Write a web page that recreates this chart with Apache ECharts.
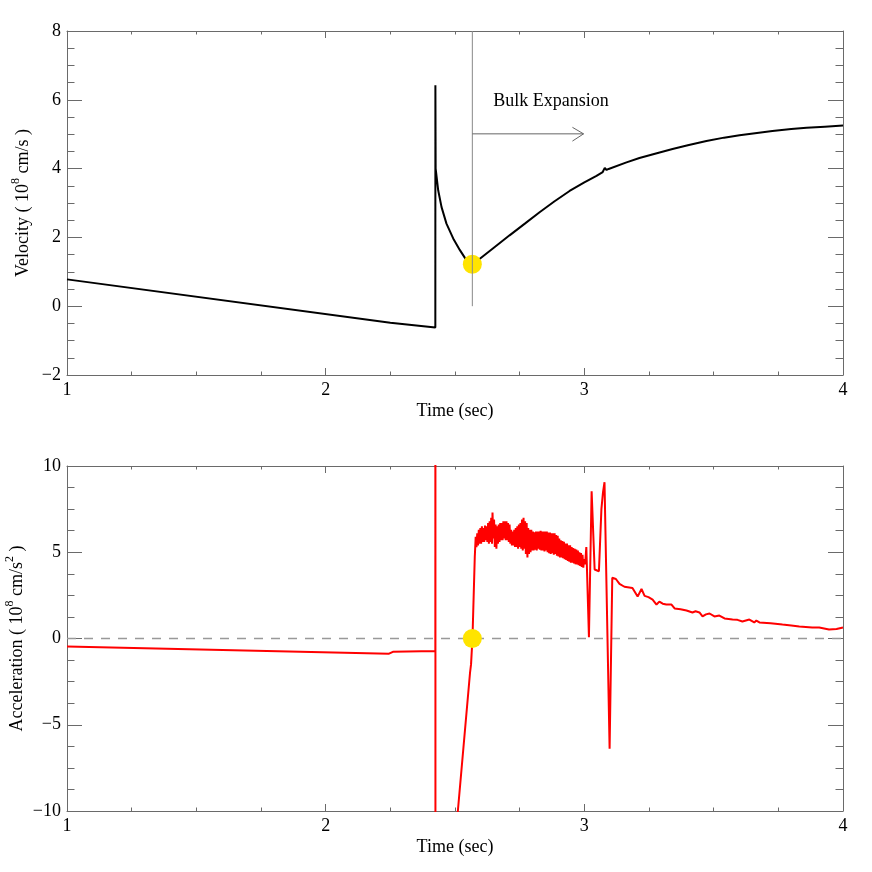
<!DOCTYPE html>
<html><head><meta charset="utf-8">
<script src="https://cdn.jsdelivr.net/npm/echarts@6/dist/echarts.min.js"></script>
<style>html,body{margin:0;padding:0;background:#fff}#c{width:872px;height:872px}</style>
</head><body><div id="c"></div>
<script>
// ---- data (time in sec, velocity 1e8 cm/s, acceleration 1e8 cm/s^2) ----
const timeRange = [1, 4];
const velRange = [-2, 8];
const accRange = [-10, 10];

const velocity = [
  [1.00, 0.78], [2.25, -0.48], [2.424, -0.62], [2.4242, 6.42], [2.4252, 4.0],
  [2.4262, 3.95], [2.435, 3.37], [2.448, 2.88], [2.467, 2.40], [2.493, 1.97],
  [2.519, 1.63], [2.544, 1.34], [2.567, 1.22], [2.596, 1.38], [2.65, 1.70],
  [2.711, 2.06], [2.77, 2.40], [2.827, 2.73], [2.885, 3.05], [2.943, 3.35],
  [3.0, 3.60], [3.047, 3.79], [3.071, 3.90], [3.079, 4.02], [3.086, 3.96],
  [3.094, 3.99], [3.163, 4.18], [3.213, 4.31], [3.291, 4.47], [3.341, 4.57],
  [3.40, 4.68], [3.472, 4.80], [3.54, 4.90], [3.60, 4.97], [3.66, 5.03],
  [3.727, 5.09], [3.80, 5.15], [3.859, 5.19], [3.93, 5.22], [4.0, 5.25]
];

const accelPre = [
  [1.00, -0.46], [2.245, -0.88], [2.26, -0.77], [2.424, -0.72],
  [2.4242, 40], [2.4245, -40], [2.4875, -14], [2.511, -10], [2.558, -2.0],
  [2.562, -1.5], [2.5675, 0], [2.5765, 4.75]
];

const accelNoise = [
  [2.577,4.9],[2.580,5.9],[2.583,5.3],[2.586,6.1],[2.589,5.4],[2.592,6.3],[2.595,5.5],[2.598,6.4],
  [2.601,5.5],[2.604,6.5],[2.607,5.6],[2.610,6.4],[2.613,5.6],[2.616,6.55],[2.619,5.7],[2.622,6.5],
  [2.625,5.6],[2.628,6.7],[2.631,5.5],[2.634,6.8],[2.637,5.6],[2.640,7.0],[2.643,5.5],[2.645,7.3],
  [2.648,5.8],[2.651,6.9],[2.654,5.3],[2.657,6.6],[2.660,5.2],[2.663,6.5],[2.666,5.5],[2.669,6.6],
  [2.672,5.6],[2.675,6.7],[2.678,5.7],[2.681,6.7],[2.684,5.7],[2.687,6.8],[2.690,5.8],[2.693,6.8],
  [2.696,5.7],[2.699,6.8],[2.702,5.7],[2.705,6.7],[2.708,5.6],[2.711,6.6],[2.714,5.5],[2.717,6.3],
  [2.720,5.4],[2.723,6.2],[2.726,5.4],[2.729,6.3],[2.732,5.3],[2.735,6.4],[2.738,5.3],[2.741,6.5],
  [2.744,5.2],[2.747,6.6],[2.750,5.3],[2.753,6.7],[2.756,5.2],[2.759,6.9],[2.762,5.1],[2.765,7.0],
  [2.768,5.2],[2.771,6.8],[2.774,4.9],[2.777,6.7],[2.780,4.7],[2.783,6.4],[2.786,4.9],[2.789,6.3],
  [2.792,5.0],[2.795,6.3],[2.798,5.1],[2.801,6.2],[2.804,5.1],[2.807,6.15],[2.810,5.15],[2.813,6.2],
  [2.816,5.1],[2.819,6.2],[2.822,5.2],[2.825,6.2],[2.828,5.15],[2.831,6.25],[2.834,5.1],[2.837,6.2],
  [2.840,5.1],[2.843,6.2],[2.846,5.05],[2.849,6.2],[2.852,5.1],[2.855,6.2],[2.858,5.0],[2.861,6.15],
  [2.864,4.95],[2.867,6.15],[2.870,4.9],[2.873,6.1],[2.876,4.95],[2.879,6.1],[2.882,4.85],[2.885,6.1],
  [2.888,4.9],[2.891,6.0],[2.894,4.8],[2.897,5.95],[2.900,4.75],[2.903,5.8],[2.906,4.7],[2.909,5.7],
  [2.912,4.7],[2.915,5.65],[2.918,4.65],[2.921,5.6],[2.924,4.6],[2.927,5.5],[2.930,4.55],[2.933,5.5],
  [2.936,4.5],[2.939,5.4],[2.942,4.45],[2.945,5.4],[2.948,4.4],[2.951,5.3],[2.954,4.4],[2.957,5.25],
  [2.960,4.35],[2.963,5.2],[2.966,4.3],[2.969,5.15],[2.972,4.3],[2.975,5.1],[2.978,4.25],[2.981,5.0],
  [2.984,4.2],[2.987,4.95],[2.990,4.15],[2.993,4.85],[2.996,4.1],[2.999,4.6]
];

const accelPost = [
  [3.003, 4.3], [3.0077, 5.3], [3.0178, 0.07], [3.0282, 8.54], [3.0398, 4.0],
  [3.0564, 3.9], [3.066, 7.5], [3.072, 8.45], [3.078, 9.06], [3.0977, -6.39],
  [3.108, 3.52], [3.122, 3.45], [3.136, 3.17], [3.155, 3.0], [3.186, 2.93],
  [3.206, 2.43], [3.221, 2.87], [3.233, 2.47], [3.248, 2.40], [3.264, 2.26],
  [3.279, 1.97], [3.290, 2.14], [3.303, 2.02], [3.317, 1.97], [3.337, 1.97],
  [3.349, 1.74], [3.372, 1.70], [3.395, 1.62], [3.418, 1.51], [3.430, 1.58],
  [3.445, 1.51], [3.457, 1.28], [3.470, 1.40], [3.484, 1.45], [3.503, 1.28],
  [3.522, 1.33], [3.542, 1.16], [3.573, 1.10], [3.592, 1.08], [3.611, 0.99],
  [3.638, 1.10], [3.657, 0.93], [3.665, 1.04], [3.677, 0.93], [3.72, 0.88],
  [3.766, 0.81], [3.80, 0.76], [3.831, 0.70], [3.881, 0.64], [3.908, 0.64],
  [3.946, 0.52], [3.975, 0.55], [4.0, 0.64]
];

const markerTime = 2.567;
const markerVelocity = 1.22;
const markerAccel = 0;
const bulkLineTop = 8;
const arrowY = 5.01;
const arrowEnd = 2.997;
const arrowHead = [[2.954, 5.20], [2.997, 5.01], [2.954, 4.80]];
const annotationText = 'Bulk Expansion';
const annotationPos = [2.646, 5.95];

// ---- chart ----
const FONT = 'Liberation Serif';
const FRAME = '#6a6a6a';
const minus = v => (v < 0 ? '\u2212' + Math.abs(v) : String(v));

function xAxes(grid) {
  const common = {
    type: 'value', gridIndex: grid, min: timeRange[0], max: timeRange[1], interval: 1,
    splitLine: { show: false },
    axisLine: { show: true, onZero: false, lineStyle: { color: FRAME, width: 1 } },
    axisTick: { show: true, inside: true, length: 7, lineStyle: { color: FRAME } },
    minorTick: { show: true, splitNumber: 4, length: 3.5, lineStyle: { color: FRAME } }
  };
  return [
    Object.assign({}, common, {
      position: 'bottom',
      name: 'Time (sec)', nameLocation: 'middle', nameGap: 27, nameMoveOverlap: false,
      nameTextStyle: { fontFamily: FONT, fontSize: 18, color: '#000' },
      axisLabel: { show: true, margin: 6, fontFamily: FONT, fontSize: 18, color: '#000', formatter: minus }
    }),
    Object.assign({}, common, { position: 'top', axisLabel: { show: false } })
  ];
}

function yAxes(grid, range, interval, name, gap) {
  const common = {
    type: 'value', gridIndex: grid, min: range[0], max: range[1], interval: interval,
    splitLine: { show: false },
    axisLine: { show: true, onZero: false, lineStyle: { color: FRAME, width: 1 } },
    axisTick: { show: true, inside: true, length: 15, lineStyle: { color: FRAME } },
    minorTick: { show: true, splitNumber: 4, length: 7.5, lineStyle: { color: FRAME } }
  };
  const rich = {
    n: { fontFamily: FONT, fontSize: 18, color: '#000', lineHeight: 22, verticalAlign: 'bottom' },
    s: { fontFamily: FONT, fontSize: 12, color: '#000', lineHeight: 12, verticalAlign: 'top' }
  };
  return [
    Object.assign({}, common, {
      position: 'left', name: name, nameLocation: 'middle', nameGap: gap, nameMoveOverlap: false,
      nameTextStyle: { rich: rich },
      axisLabel: { show: true, margin: 6, fontFamily: FONT, fontSize: 18, color: '#000', formatter: minus }
    }),
    Object.assign({}, common, { position: 'right', axisLabel: { show: false } })
  ];
}

const chart = echarts.init(document.getElementById('c'), null, { renderer: 'canvas' });
chart.setOption({
  animation: false,
  backgroundColor: '#fff',
  grid: [
    { left: 67, width: 776, top: 31, height: 344, containLabel: false, outerBoundsMode: 'none' },
    { left: 67, width: 776, top: 466, height: 345, containLabel: false, outerBoundsMode: 'none' }
  ],
  xAxis: [].concat(xAxes(0), xAxes(1)),
  yAxis: [].concat(
    yAxes(0, velRange, 2, '{n|Velocity ( 10}{s|8}{n| cm/s )}', 35),
    yAxes(1, accRange, 5, '{n|Acceleration ( 10}{s|8}{n| cm/s}{s|2}{n| )}', 41)
  ),
  series: [
    { type: 'line', xAxisIndex: 0, yAxisIndex: 0, data: velocity, showSymbol: false, smooth: false,
      lineStyle: { color: '#000', width: 2 }, clip: true, z: 3 },
    { type: 'scatter', xAxisIndex: 0, yAxisIndex: 0, data: [[markerTime, markerVelocity]],
      symbolSize: 19, itemStyle: { color: '#ffe400', opacity: 1 }, z: 4 },
    { type: 'line', xAxisIndex: 0, yAxisIndex: 0, data: [[markerTime, 0], [markerTime, bulkLineTop]],
      showSymbol: false, lineStyle: { color: '#888', width: 1 }, z: 5 },
    { type: 'line', xAxisIndex: 0, yAxisIndex: 0, data: [[markerTime, arrowY], [arrowEnd, arrowY]],
      showSymbol: false, lineStyle: { color: '#666', width: 1 }, z: 5 },
    { type: 'line', xAxisIndex: 0, yAxisIndex: 0, data: arrowHead,
      showSymbol: false, lineStyle: { color: '#666', width: 1 }, z: 5 },
    { type: 'scatter', xAxisIndex: 0, yAxisIndex: 0, data: [annotationPos], symbolSize: 1,
      itemStyle: { color: 'rgba(0,0,0,0)' },
      label: { show: true, position: 'right', distance: 0, formatter: annotationText,
               fontFamily: FONT, fontSize: 18, color: '#000', opacity: 1,
               textBorderWidth: 0, textShadowBlur: 0 }, z: 5 },

    { type: 'line', xAxisIndex: 2, yAxisIndex: 2, data: [[timeRange[0], 0], [timeRange[1], 0]],
      showSymbol: false, lineStyle: { color: '#999', width: 1.5, type: [9, 8] }, z: 2 },
    { type: 'line', xAxisIndex: 2, yAxisIndex: 2, data: accelPre.concat(accelNoise, accelPost),
      showSymbol: false, lineStyle: { color: '#ff0000', width: 2 }, clip: true, z: 3 },
    { type: 'scatter', xAxisIndex: 2, yAxisIndex: 2, data: [[markerTime, markerAccel]],
      symbolSize: 19, itemStyle: { color: '#ffe400', opacity: 1 }, z: 4 }
  ]
});
</script></body></html>
